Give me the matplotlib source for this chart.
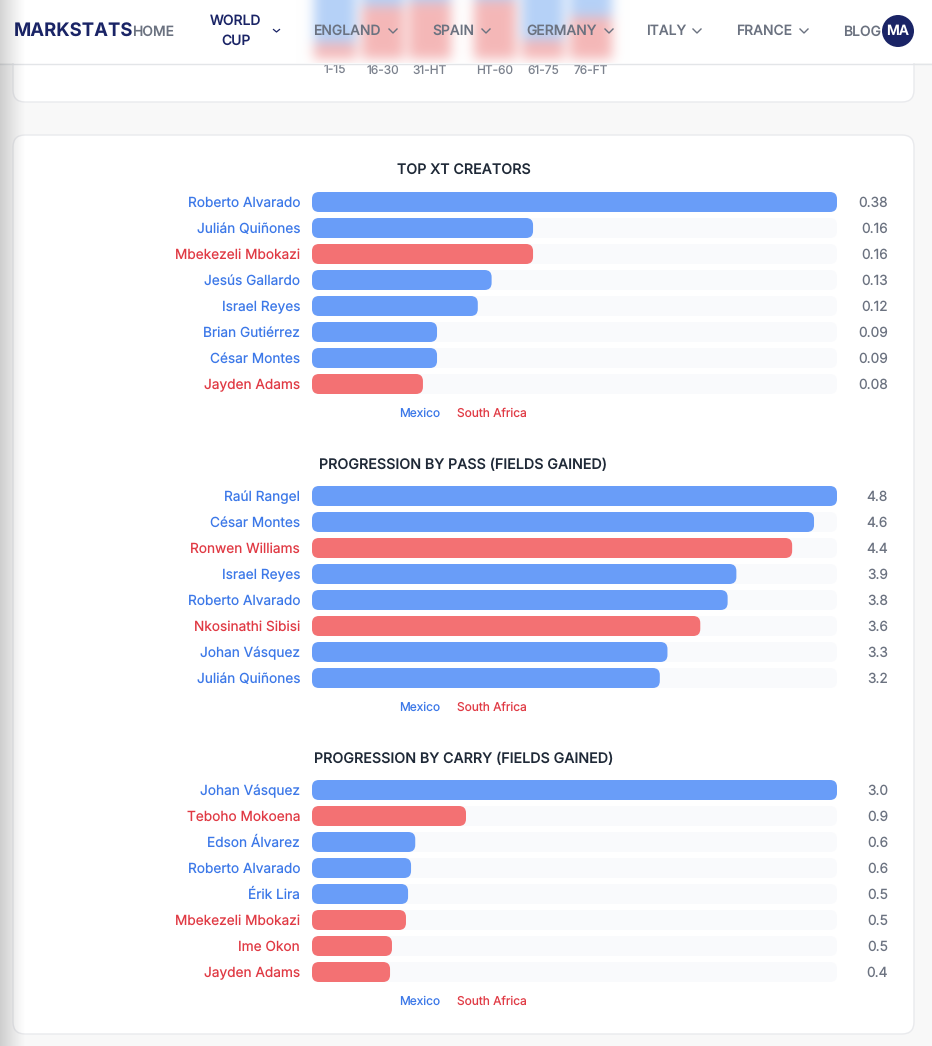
import numpy as np
import matplotlib
matplotlib.use('Agg')
import matplotlib.pyplot as plt
from matplotlib.patches import FancyBboxPatch, Circle

plt.rcParams['font.family'] = ['Inter', 'DejaVu Sans']
plt.rcParams['text.hinting'] = 'none'

W, H = 932, 1046

# chart data
xt_players = ['Roberto Alvarado', 'Julián Quiñones', 'Mbekezeli Mbokazi', 'Jesús Gallardo',
              'Israel Reyes', 'Brian Gutiérrez', 'César Montes', 'Jayden Adams']
xt_teams = ['M', 'M', 'S', 'M', 'M', 'M', 'M', 'S']
xt_values = [0.38, 0.16, 0.16, 0.13, 0.12, 0.0905, 0.0905, 0.0803]

pass_players = ['Raúl Rangel', 'César Montes', 'Ronwen Williams', 'Israel Reyes',
                'Roberto Alvarado', 'Nkosinathi Sibisi', 'Johan Vásquez', 'Julián Quiñones']
pass_teams = ['M', 'M', 'S', 'M', 'M', 'S', 'M', 'M']
pass_values = [4.8, 4.59, 4.39, 3.88, 3.80, 3.55001, 3.25001, 3.18]

carry_players = ['Johan Vásquez', 'Teboho Mokoena', 'Edson Álvarez', 'Roberto Alvarado',
                 'Érik Lira', 'Mbekezeli Mbokazi', 'Ime Okon', 'Jayden Adams']
carry_teams = ['M', 'S', 'M', 'M', 'M', 'S', 'S', 'S']
carry_values = [3.0, 0.88, 0.59, 0.566, 0.549, 0.537, 0.457, 0.446]

# the chart left blurred behind the nav bar
period_labels = ['1-15', '16-30', '31-HT', 'HT-60', '61-75', '76-FT']
period_centres = [335, 383, 430, 495, 543, 591]
period_blue = [43, 6, 2, 0, 40, 17]

nav_items = ['ENGLAND', 'SPAIN', 'GERMANY', 'ITALY', 'FRANCE']
nav_left = [313.5, 432.5, 526.5, 646.5, 736.5]
nav_chevrons = [393, 486, 609, 697, 804]

BLUE_BAR, RED_BAR = '#699df8', '#f37173'
BLUE_TXT, RED_TXT = '#3c78e8', '#e03a44'
TRACK = '#f9fafc'
NAVY = '#1a2466'
GREY = '#6b7280'


def blur(a, r):
    k = np.exp(-0.5 * (np.arange(-3 * r, 3 * r + 1) / r) ** 2)
    k /= k.sum()
    pad = 3 * r
    a = np.pad(a, pad, mode='edge')
    a = np.apply_along_axis(lambda v: np.convolve(v, k, mode='same'), 0, a)
    a = np.apply_along_axis(lambda v: np.convolve(v, k, mode='same'), 1, a)
    return a[pad:-pad, pad:-pad]


def rounded(ax, x0, x1, yc, h, r, px_x, px_y, color, z):
    p = FancyBboxPatch((x0, yc - h / 2), x1 - x0, h,
                       boxstyle='round,pad=0,rounding_size=%f' % (r * px_x),
                       mutation_aspect=px_y / px_x, fc=color, ec='none', zorder=z)
    ax.add_patch(p)


fig = plt.figure(figsize=(W / 100, H / 100), dpi=100, facecolor='#f8f8f8')
bg = fig.add_axes([0, 0, 1, 1], zorder=0)
bg.set_xlim(0, W)
bg.set_ylim(H, 0)
bg.axis('off')

# cards
for y0, y1 in [(-40, 102), (135, 1034)]:
    bg.add_patch(FancyBboxPatch((13, y0), 901, y1 - y0, boxstyle='round,pad=0,rounding_size=12',
                                fc='white', ec='#e9eaed', lw=1, zorder=1))

for lab, c in zip(period_labels, period_centres):
    bg.text(c, 71, lab, ha='center', va='center', fontsize=8.6, color='#7b818d', zorder=2)


def panel(top, title, players, teams, values, fmt):
    vmax = max(values)
    ax = fig.add_axes([312 / W, 1 - (top + 208) / H, 525 / W, 208 / H], zorder=2)
    ax.patch.set_alpha(0)
    ax.set_xlim(0, vmax)
    ax.set_ylim(7.5, -0.5)
    px_x, px_y = vmax / 525, 1 / 26
    for i, v in enumerate(values):
        rounded(ax, 0, vmax, i, 20 * px_y, 7, px_x, px_y, TRACK, 1)
        rounded(ax, 0, v, i, 20 * px_y, 7, px_x, px_y, BLUE_BAR if teams[i] == 'M' else RED_BAR, 2)
        ax.annotate(fmt % v, (vmax, i), xytext=(51 * 0.72, -0.7), textcoords='offset points',
                    ha='right', va='center', fontsize=9.9, color=GREY)
    ax.set_yticks(range(len(players)))
    ax.set_yticklabels(players, fontsize=9.85)
    for lab, t in zip(ax.get_yticklabels(), teams):
        lab.set_color(BLUE_TXT if t == 'M' else RED_TXT)
    ax.tick_params(axis='y', length=0, pad=8.6)
    ax.set_xticks([])
    for s in ax.spines.values():
        s.set_visible(False)
    bg.text(463.5, top - 18, title, ha='center', va='center', fontsize=10.3, color='#1f2937',
            fontweight='medium', zorder=3)
    bg.text(420, top + 224.5, 'Mexico', ha='center', va='center', fontsize=8.6, color=BLUE_TXT, zorder=3)
    bg.text(491.5, top + 224.5, 'South Africa', ha='center', va='center', fontsize=8.6, color=RED_TXT, zorder=3)


panel(189, 'TOP XT CREATORS', xt_players, xt_teams, xt_values, '%.2f')
panel(483, 'PROGRESSION BY PASS (FIELDS GAINED)', pass_players, pass_teams, pass_values, '%.1f')
panel(777, 'PROGRESSION BY CARRY (FIELDS GAINED)', carry_players, carry_teams, carry_values, '%.1f')

# nav bar, translucent over the blurred columns
nav_h = 63
img = np.ones((nav_h + 20, W, 3))
for c, b in zip(period_centres, period_blue):
    x0, x1 = c - 21, c + 21
    img[:b + 20, x0:x1] = np.array([0.71, 0.82, 0.97])
    img[b + 20:nav_h + 16, x0:x1] = np.array([0.96, 0.72, 0.72])
for ch in range(3):
    img[:, :, ch] = blur(img[:, :, ch], 6)
img = img[20:nav_h + 20]
bg.imshow(img, extent=(0, W, nav_h, 0), aspect='auto', zorder=4, interpolation='bilinear')
bg.set_xlim(0, W)
bg.set_ylim(H, 0)
bg.plot([0, W], [63.5, 63.5], color='#e3e5e8', lw=1, zorder=5)

bg.text(14, 31, 'MARKSTATS', ha='left', va='center', fontsize=13.35, fontweight='bold', color=NAVY, zorder=6)
bg.text(132, 32, 'HOME', ha='left', va='center', fontsize=10, color=GREY, fontweight='medium', zorder=6)
bg.text(236, 31, 'WORLD\nCUP', ha='center', va='center', fontsize=10, color=NAVY, fontweight='medium',
        linespacing=1.65, zorder=6)
for name, x in zip(nav_items, nav_left):
    bg.text(x, 31, name, ha='left', va='center', fontsize=10, color=GREY, fontweight='medium', zorder=6)
bg.text(843.5, 32, 'BLOG', ha='left', va='center', fontsize=10, color=GREY, fontweight='medium', zorder=6)
for x in nav_chevrons:
    bg.plot([x - 4, x, x + 4], [29, 33, 29], color=GREY, lw=1, zorder=6)
bg.plot([273.5, 276.5, 279.5], [29.5, 32, 29.5], color=NAVY, lw=0.9, zorder=6)
bg.add_patch(Circle((898, 31), 16, fc=NAVY, ec='none', zorder=7))
bg.text(898, 31, 'MA', ha='center', va='center', fontsize=10, color='white', fontweight='semibold', zorder=8)

# page shadow on the left edge
shade = fig.add_axes([0, 0, 30 / W, 1], zorder=9)
grad = np.zeros((1, 30, 4))
grad[0, :, 3] = 0.17 * np.clip(1 - np.arange(30) / 26, 0, 1) ** 1.2
shade.imshow(grad, aspect='auto', interpolation='bilinear')
shade.axis('off')

fig.savefig('out.png', dpi=100, facecolor=fig.get_facecolor())
